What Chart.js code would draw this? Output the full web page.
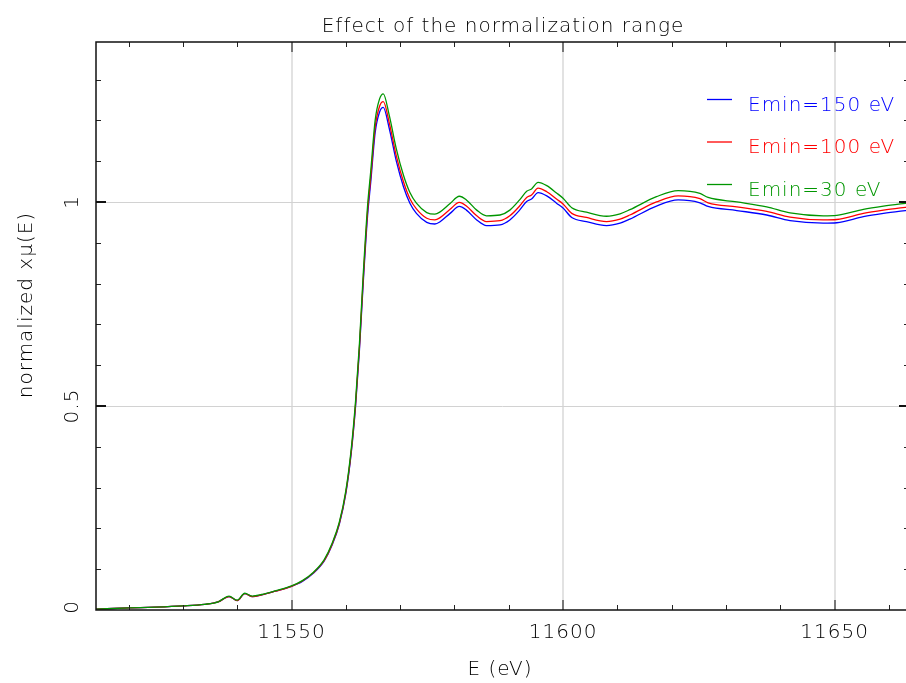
<!DOCTYPE html>
<html lang="en">

<head>
    <meta charset="UTF-8">
    <title>Effect of the normalization range</title>
    <script src="https://cdn.jsdelivr.net/npm/chart.js"></script>
    <style>
        body { margin: 0; overflow: hidden; background: #fff; }
        canvas { display: block; }
    </style>
</head>

<body>
    <canvas id="chart" width="920" height="683"></canvas>
</body>

</html>

<script>
    // energia (eV) e mu normalizado para cada faixa Emin
    const energy = [11514, 11520, 11525, 11530, 11534, 11536.5, 11538.5, 11540, 11541.4, 11542.8,
        11544.5, 11547, 11550, 11552, 11554, 11556, 11557.5, 11558.8, 11560, 11561,
        11561.8, 11562.5, 11563.2, 11564, 11564.6, 11565.4, 11566.2, 11566.9, 11568, 11569.3,
        11570.6, 11571.8, 11573, 11574.9, 11576.4, 11577.3, 11579.2, 11580.9, 11582.2, 11584.1,
        11585.9, 11588.4, 11590.2, 11592, 11593.3, 11594.2, 11595.4, 11597, 11598.8, 11600,
        11601.6, 11604.3, 11608, 11610.5, 11612.3, 11617.2, 11621.2, 11625.2, 11626.7, 11632,
        11637.5, 11641.8, 11647.9, 11650.4, 11655.3, 11659, 11663.7];

    const emin150 = [0.002, 0.005, 0.007, 0.010, 0.014, 0.020, 0.033, 0.023, 0.040, 0.033,
        0.037, 0.046, 0.058, 0.070, 0.090, 0.120, 0.160, 0.210, 0.285, 0.385,
        0.500, 0.635, 0.800, 0.965, 1.050, 1.170, 1.220, 1.232, 1.180, 1.100,
        1.038, 0.997, 0.972, 0.950, 0.946, 0.951, 0.972, 0.989, 0.980, 0.956,
        0.942, 0.944, 0.956, 0.980, 1.001, 1.007, 1.023, 1.015, 0.997, 0.985,
        0.962, 0.952, 0.942, 0.948, 0.958, 0.990, 1.005, 0.998, 0.989, 0.979,
        0.968, 0.954, 0.948, 0.949, 0.964, 0.972, 0.980];

    const emin100 = [0.002, 0.005, 0.007, 0.010, 0.014, 0.020, 0.033, 0.023, 0.040, 0.033,
        0.037, 0.046, 0.058, 0.071, 0.091, 0.121, 0.162, 0.212, 0.288, 0.389,
        0.505, 0.642, 0.809, 0.976, 1.062, 1.183, 1.234, 1.246, 1.194, 1.113,
        1.050, 1.008, 0.983, 0.960, 0.956, 0.961, 0.982, 0.999, 0.990, 0.966,
        0.952, 0.954, 0.966, 0.990, 1.011, 1.017, 1.034, 1.025, 1.007, 0.995,
        0.972, 0.962, 0.952, 0.958, 0.968, 1.000, 1.015, 1.008, 0.998, 0.988,
        0.977, 0.963, 0.956, 0.957, 0.972, 0.980, 0.988];

    const emin30 = [0.002, 0.005, 0.007, 0.010, 0.014, 0.020, 0.034, 0.024, 0.041, 0.034,
        0.038, 0.047, 0.059, 0.072, 0.092, 0.123, 0.164, 0.215, 0.292, 0.395,
        0.513, 0.651, 0.821, 0.990, 1.077, 1.200, 1.252, 1.265, 1.212, 1.130,
        1.066, 1.023, 0.997, 0.974, 0.970, 0.975, 0.996, 1.014, 1.005, 0.980,
        0.966, 0.968, 0.980, 1.005, 1.026, 1.032, 1.048, 1.040, 1.022, 1.009,
        0.986, 0.975, 0.965, 0.971, 0.981, 1.013, 1.028, 1.021, 1.011, 1.000,
        0.988, 0.973, 0.966, 0.967, 0.982, 0.990, 0.998];

    const seriesNames = ['Emin=150 eV', 'Emin=100 eV', 'Emin=30 eV'];
    const seriesColors = ['#0000ff', '#ff0000', '#009600'];
    const xTicks = [11550, 11600, 11650];
    const yTicks = [0, 0.5, 1];
    const yTickLabels = ['0', '0.5', '1'];

    const FONTE = "200 20px 'DejaVu Sans', sans-serif";
    const COR_TEXTO = '#000';

    function linha(ctx, x1, y1, x2, y2) {
        ctx.beginPath();
        ctx.moveTo(x1, y1);
        ctx.lineTo(x2, y2);
        ctx.stroke();
    }

    const moldura = {
        id: 'moldura',
        beforeDatasetsDraw(chart) {
            const { ctx, chartArea: a, scales: { x, y } } = chart;
            ctx.save();
            ctx.strokeStyle = '#e2e2e2';
            ctx.lineWidth = 2;
            xTicks.forEach(v => {
                const px = Math.round(x.getPixelForValue(v));
                linha(ctx, px, a.top, px, a.bottom);
            });
            ctx.strokeStyle = '#d2d2d2';
            ctx.lineWidth = 1;
            yTicks.slice(1).forEach(v => {
                const py = Math.round(y.getPixelForValue(v)) + 0.5;
                linha(ctx, a.left, py, a.right, py);
            });
            ctx.restore();
        },
        afterDatasetsDraw(chart) {
            const { ctx, chartArea: a, scales: { x, y } } = chart;
            ctx.save();
            // marcas menores
            ctx.strokeStyle = '#222';
            ctx.lineWidth = 1;
            for (let v = 11520; v <= 11660; v += 10) {
                if (v % 50 === 0) continue;
                const px = Math.round(x.getPixelForValue(v)) + 0.5;
                linha(ctx, px, a.bottom, px, a.bottom - 5);
                linha(ctx, px, a.top, px, a.top + 5);
            }
            for (let k = 1; k <= 13; k++) {
                if (k % 5 === 0) continue;
                const py = Math.round(y.getPixelForValue(k / 10)) + 0.5;
                linha(ctx, a.left, py, a.left + 5, py);
                linha(ctx, a.right, py, a.right - 5, py);
            }
            // marcas maiores
            ctx.strokeStyle = '#777';
            ctx.lineWidth = 2;
            xTicks.forEach(v => {
                const px = Math.round(x.getPixelForValue(v));
                linha(ctx, px, a.bottom, px, a.bottom - 10);
                linha(ctx, px, a.top, px, a.top + 10);
            });
            ctx.strokeStyle = '#111';
            yTicks.slice(1).forEach(v => {
                const py = Math.round(y.getPixelForValue(v));
                linha(ctx, a.left, py, a.left + 10, py);
                linha(ctx, a.right, py, a.right - 10, py);
            });
            // caixa
            ctx.strokeStyle = '#111';
            ctx.lineWidth = 1.5;
            ctx.strokeRect(a.left, a.top, a.right - a.left, a.bottom - a.top);
            ctx.restore();
        },
        afterDraw(chart) {
            const { ctx, scales: { x, y } } = chart;
            ctx.save();
            ctx.font = FONTE;
            ctx.letterSpacing = '1px';
            ctx.fillStyle = COR_TEXTO;
            ctx.textAlign = 'center';
            ctx.textBaseline = 'alphabetic';

            ctx.fillText('Effect of the normalization range', 503, 32);

            xTicks.forEach(v => {
                ctx.fillText(String(v), x.getPixelForValue(v), 638);
            });
            ctx.fillText('E (eV)', 500, 675);

            ctx.textBaseline = 'middle';
            yTicks.forEach((v, i) => {
                ctx.save();
                ctx.translate(73, Math.min(y.getPixelForValue(v), 607));
                ctx.rotate(-Math.PI / 2);
                ctx.fillText(yTickLabels[i], 0, 0);
                ctx.restore();
            });
            ctx.save();
            ctx.translate(27, 305);
            ctx.rotate(-Math.PI / 2);
            ctx.fillText('normalized x\u03bc(E)', 0, 0);
            ctx.restore();

            // legenda
            ctx.textAlign = 'left';
            ctx.textBaseline = 'alphabetic';
            ctx.lineWidth = 1.3;
            seriesNames.forEach((nome, i) => {
                const ly = 99.5 + i * 42.5;
                ctx.strokeStyle = seriesColors[i];
                linha(ctx, 707, ly, 732, ly);
                ctx.fillStyle = seriesColors[i];
                ctx.fillText(nome, 748, ly + 11);
            });
            ctx.restore();
        }
    };

    const series = [emin150, emin100, emin30];

    const ctx = document.getElementById('chart').getContext('2d');
    const grafico = new Chart(ctx, {
        type: 'line',
        data: {
            datasets: series.map((valores, i) => ({
                label: seriesNames[i],
                data: energy.map((e, j) => ({ x: e, y: valores[j] })),
                borderColor: seriesColors[i],
                borderWidth: 1.3,
                pointRadius: 0,
                fill: false,
                cubicInterpolationMode: 'monotone',
                order: 2 - i
            }))
        },
        options: {
            responsive: false,
            animation: false,
            layout: { padding: { left: 96, top: 42, right: 11, bottom: 73 } },
            plugins: {
                legend: { display: false },
                title: { display: false },
                tooltip: { enabled: false }
            },
            scales: {
                x: { type: 'linear', min: 11514, max: 11663.7, display: false },
                y: { min: 0, max: 1.392, display: false }
            }
        },
        plugins: [moldura]
    });
</script>
